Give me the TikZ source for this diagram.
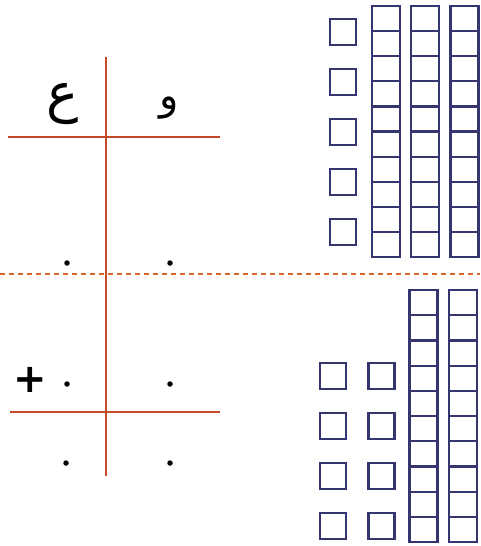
\documentclass[tikz,border=0pt]{standalone}
\usepackage{fontspec}
\usepackage{tikz}
\usetikzlibrary{positioning}
\newfontfamily\arabicfont[Script=Arabic]{DejaVu Sans}
\newfontfamily\signfont{DejaVu Sans}
\TeXXeTstate=1
\definecolor{axisred}{HTML}{C44A2A}
\definecolor{cutorange}{HTML}{D8662A}
\definecolor{blockblue}{HTML}{35356F}

\begin{document}
\begin{tikzpicture}[x=1pt, y=-1pt,
  axis/.style={draw=axisred, line width=2.8pt},
  cut/.style={draw=cutorange, line width=2.4pt, dash pattern=on 5pt off 4pt},
  unit/.style={draw=blockblue, line width=2.2pt, minimum size=26pt, inner sep=0pt},
  cell/.style={draw=blockblue, line width=2.2pt, minimum width=28pt, minimum height=25.1pt, inner sep=0pt},
  digit/.style={circle, fill=black, inner sep=0pt, minimum size=5.5pt},
  letter/.style={font=\arabicfont, inner sep=0pt},
]
  \useasboundingbox (0,0) rectangle (480,546);

  % place-value table
  \coordinate (vtop) at (106,57);
  \coordinate (vbot) at (106,476);
  \coordinate (hAl) at (8,137);
  \coordinate (hAr) at (220,137);
  \coordinate (hBl) at (10,412);
  \coordinate (hBr) at (220,412);
  \draw[axis] (vtop) -- (vbot);
  \draw[axis] (hAl) -- (hAr);
  \draw[axis] (hBl) -- (hBr);

  \node[letter] (ain) at (63,104) {\fontsize{54}{60}\selectfont\beginR ع\endR};
  \node[letter] (waw) at (169,108) {\fontsize{40}{46}\selectfont\beginR و\endR};

  \node[digit] (d1) at (67,263) {};
  \node[digit] (d2) at (170,263) {};
  \node[digit] (d3) at (67,384) {};
  \node[digit] (d4) at (170,384) {};
  \node[digit] (d5) at (66,463) {};
  \node[digit] (d6) at (170,463) {};
  \node[font=\signfont\bfseries\fontsize{40}{42}\selectfont, inner sep=0pt] (plus) at (30,380) {+};

  % separator
  \coordinate (cutl) at (0,274);
  \coordinate (cutr) at (480,274);
  \draw[cut] (cutl) -- (cutr);

  % first number: tens and units
  \foreach \i in {0,...,4}
    \node[unit] (ua\i) at (343,{32+50*\i}) {};
  \foreach \c/\x in {1/386,2/425,3/464.5}
    \foreach \j in {0,...,9}
      \node[cell] (ta\c-\j) at (\x,{18.55+25.1*\j}) {};

  % second number: tens and units
  \foreach \c/\x in {1/333,2/381.5}
    \foreach \i in {0,...,3}
      \node[unit] (ub\c-\i) at (\x,{376+50*\i}) {};
  \foreach \c/\x in {1/423.5,2/463}
    \foreach \j in {0,...,9}
      \node[cell, minimum height=25.2pt] (tb\c-\j) at (\x,{302.6+25.2*\j}) {};
\end{tikzpicture}
\end{document}
